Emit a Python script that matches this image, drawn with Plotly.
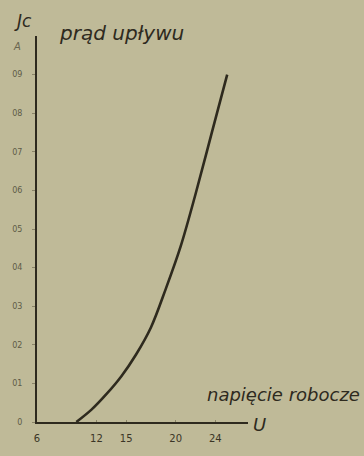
import plotly.graph_objects as go

# Leakage current vs. working voltage
voltage = [9.97, 11.5, 13.0, 14.5, 16.0, 17.5, 19.0, 20.5, 22.0, 23.6, 25.2]
current = [0.0, 0.032, 0.072, 0.118, 0.175, 0.245, 0.345, 0.455, 0.59, 0.745, 0.90]

x_ticks = [6, 12, 15, 20, 24]
x_tick_text = ["6", "12", "15", "20", "24"]
y_ticks = [0, 0.1, 0.2, 0.3, 0.4, 0.5, 0.6, 0.7, 0.8, 0.9]
y_tick_text = ["0", "01", "02", "03", "04", "05", "06", "07", "08", "09"]

bg = "#bfba98"
ink = "#2e2a1e"
hand = "DejaVu Sans"

fig = go.Figure()
fig.add_trace(go.Scatter(
    x=voltage, y=current, mode="lines",
    line=dict(color=ink, width=2.6, shape="spline", smoothing=1.0),
    hoverinfo="skip", showlegend=False,
))

fig.update_layout(
    width=364, height=456,
    margin=dict(l=35, r=116, t=36, b=20),
    paper_bgcolor=bg, plot_bgcolor=bg,
    showlegend=False,
    xaxis=dict(
        range=[6, 27.3], showgrid=False, zeroline=False,
        showline=True, linecolor=ink, linewidth=2,
        tickvals=x_ticks, ticktext=x_tick_text,
        ticks="inside", ticklen=2, tickcolor="#8a8468",
        ticklabelstandoff=6,
        tickfont=dict(family=hand, size=10, color="#3a3526"),
    ),
    yaxis=dict(
        range=[0, 1.0], showgrid=False, zeroline=False,
        showline=True, linecolor=ink, linewidth=2,
        tickvals=y_ticks, ticktext=y_tick_text,
        ticks="outside", ticklen=3, tickcolor="#8a8468",
        ticklabelstandoff=8,
        tickfont=dict(family=hand, size=8, color="#5e5a47"),
    ),
    annotations=[
        dict(text="<i>Jc</i>", x=21, y=20, showarrow=False,
             font=dict(family=hand, size=17, color=ink)),
        dict(text="<i>A</i>", x=15, y=47, showarrow=False,
             font=dict(family=hand, size=10, color="#6a6650")),
        dict(text="<i>prąd upływu</i>", x=120, y=33, showarrow=False,
             font=dict(family=hand, size=20, color=ink)),
        dict(text="<i>napięcie robocze</i>", x=284, y=408, showarrow=False,
             font=dict(family=hand, size=18, color=ink)),
        dict(text="<i>U</i>", x=260, y=439, showarrow=False,
             font=dict(family=hand, size=18, color=ink)),
    ],
)

# Place the free text in pixel coordinates of the page
for a in fig.layout.annotations:
    a.xref = "paper"
    a.yref = "paper"
    a.x = (a.x - 35) / (364 - 35 - 116)
    a.y = (456 - 20 - a.y) / (456 - 36 - 20)
    a.xanchor = "center"
    a.yanchor = "middle"

fig.write_html("out.html")
